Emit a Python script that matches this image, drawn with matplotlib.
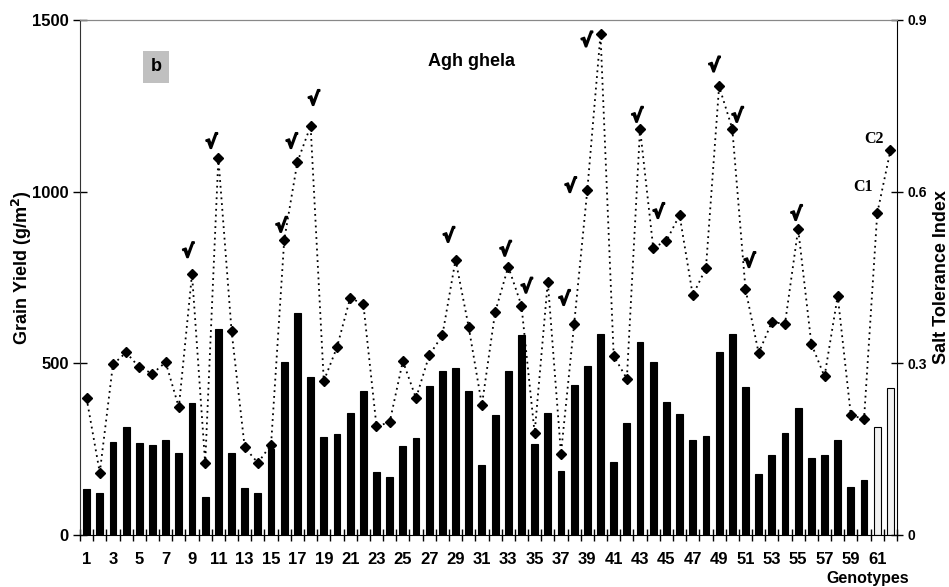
import matplotlib
matplotlib.use("Agg")
import matplotlib.pyplot as plt
import matplotlib.patheffects as pe
import numpy as np

genotypes = list(range(1, 63))
grain_yield = [134, 123, 272, 315, 267, 262, 276, 240, 385, 112,
               601, 240, 136, 123, 250, 503, 646, 459, 285, 294,
               355, 420, 183, 168, 258, 282, 434, 478, 486, 418,
               203, 350, 479, 583, 266, 356, 186, 437, 493, 585,
               213, 325, 561, 503, 387, 353, 278, 289, 534, 586,
               430, 179, 232, 296, 370, 225, 232, 277, 141, 160,
               315, 427]
sti = [0.239, 0.109, 0.298, 0.319, 0.293, 0.282, 0.302, 0.223, 0.456, 0.125,
       0.659, 0.357, 0.153, 0.126, 0.158, 0.516, 0.652, 0.715, 0.269, 0.328,
       0.414, 0.404, 0.190, 0.197, 0.304, 0.239, 0.314, 0.349, 0.481, 0.363,
       0.227, 0.389, 0.469, 0.401, 0.178, 0.443, 0.142, 0.369, 0.603, 0.875,
       0.313, 0.273, 0.710, 0.502, 0.514, 0.559, 0.419, 0.466, 0.784, 0.710,
       0.430, 0.318, 0.372, 0.369, 0.535, 0.334, 0.277, 0.418, 0.209, 0.203,
       0.562, 0.672]
checks = [9, 11, 16, 17, 18, 29, 33, 34, 38, 39, 40, 43, 45, 49, 50, 51, 55]
check_offsets = {9: (-4, 22), 11: (-7, 15), 16: (-3, 13), 17: (-6, 19), 18: (3, 26),
                 29: (-7, 23), 33: (-3, 16), 34: (5, 18), 38: (-10, 24), 39: (-17, 3),
                 40: (-14, -7), 43: (-3, 12), 45: (-8, 28), 49: (-5, 20), 50: (5, 12),
                 51: (4, 27), 55: (-2, 14)}
controls = {61: "C1", 62: "C2"}
control_offsets = {61: (-14, 26), 62: (-16, 11)}
xtick_labels = [str(i) for i in range(1, 62, 2)]

plt.rcParams['font.family'] = ['Liberation Sans', 'DejaVu Sans']
plt.rcParams['font.weight'] = 'bold'

W, H = 949, 587
fig = plt.figure(figsize=(W / 100, H / 100), dpi=100)
ax = fig.add_axes([80 / W, 1 - 535 / H, 817 / W, 515 / H])
ax2 = ax.twinx()

colors = ['black' if g not in controls else '#f2f2f2' for g in genotypes]
ax.bar(genotypes, grain_yield, width=0.52, color=colors, edgecolor='black', linewidth=0.8)
ax.set_xlim(0.5, 62.5)
ax.set_ylim(0, 1500)
ax.set_yticks([0, 500, 1000, 1500])
ax.set_yticklabels(['0', '500', '1000', '1500'], fontsize=12, fontweight='bold')
ax.set_xticks(range(1, 62, 2))
ax.set_xticklabels(xtick_labels, fontsize=12, fontweight='bold')
ax.set_xticks(np.arange(0.5, 63, 1), minor=True)
ax.tick_params(axis='x', which='major', length=0, pad=12)
ax.tick_params(axis='x', which='minor', direction='inout', length=8, width=1)
ax.tick_params(axis='y', direction='inout', length=10, width=1, pad=3)

ax2.plot(genotypes, sti, linestyle=(0, (1, 2.2)), color='black', linewidth=1.3,
         marker='D', markersize=5, markerfacecolor='black', markeredgecolor='black')
ax2.set_ylim(0, 0.9)
ax2.set_yticks([0, 0.3, 0.6, 0.9])
ax2.set_yticklabels(['0', '0.3', '0.6', '0.9'], fontsize=10, fontweight='bold')
ax2.tick_params(axis='y', direction='inout', length=9, width=1, pad=3)

ax.spines['top'].set_color('#888888')
ax2.spines['top'].set_color('#888888')
ax.spines['left'].set_color('#333333')
ax2.spines['left'].set_visible(False)
ax.spines['right'].set_visible(False)
ax2.spines['right'].set_color('black')
ax2.spines['bottom'].set_visible(False)

for g in checks:
    dx, dy = check_offsets[g]
    ax2.annotate('\u221a', (g, sti[g - 1]), xytext=(dx * 0.72, dy * 0.72),
                 textcoords='offset points', ha='center', va='center',
                 fontsize=13, fontweight='bold', family=['DejaVu Sans'],
                 path_effects=[pe.withStroke(linewidth=1.2, foreground='black')])

for g, lab in controls.items():
    dx, dy = control_offsets[g]
    ax2.annotate(lab, (g, sti[g - 1]), xytext=(dx * 0.72, dy * 0.72),
                 textcoords='offset points', ha='center', va='center',
                 fontsize=11.5, fontweight='bold', family=['Liberation Serif'])

ax.text(0.093, 0.909, 'b', transform=ax.transAxes, ha='center', va='center',
        fontsize=13, fontweight='bold',
        bbox=dict(boxstyle='square,pad=0.4', facecolor='#c0c0c0', edgecolor='none'))
ax.text(0.479, 0.919, 'Agh ghela', transform=ax.transAxes, ha='center', va='center',
        fontsize=13, fontweight='bold')

fig.text(22 / W, 1 - 268 / H, 'Grain Yield (g/m$^\\mathbf{2}$)', rotation=90,
         ha='center', va='center', fontsize=13, fontweight='bold')
fig.text(941 / W, 1 - 277 / H, 'Salt Tolerance Index', rotation=90,
         ha='center', va='center', fontsize=13, fontweight='bold')
fig.text(868 / W, 1 - 579 / H, 'Genotypes', ha='center', va='center',
         fontsize=11.5, fontweight='bold')

fig.savefig('out.png', dpi=100)
